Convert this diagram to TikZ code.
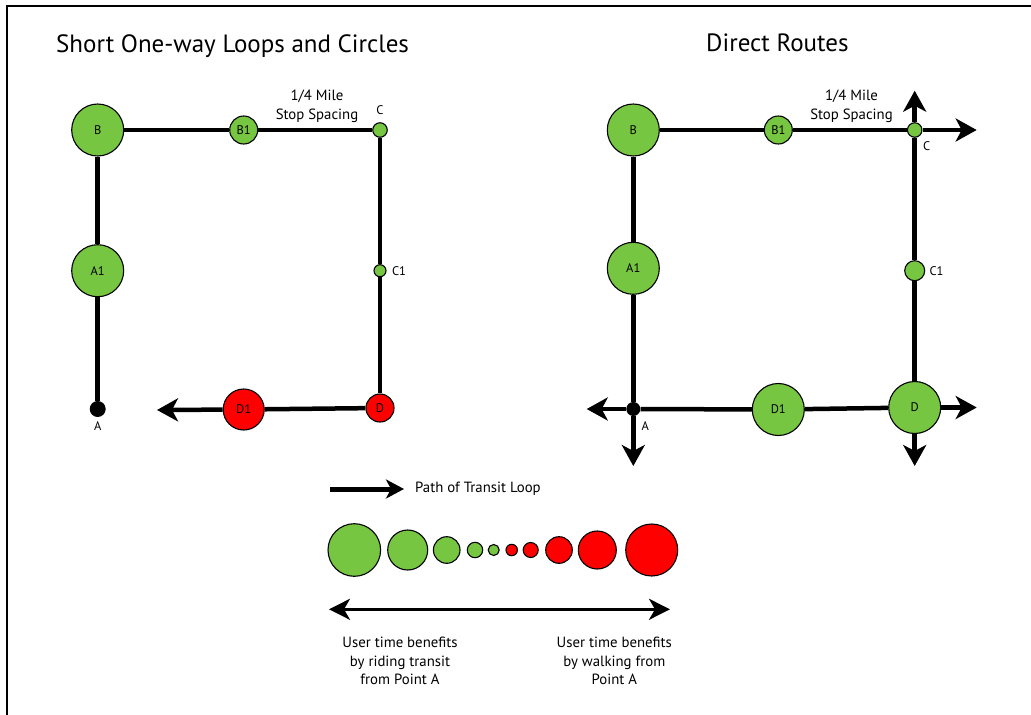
\documentclass[tikz,border=0pt]{standalone}
\usepackage{fontspec}
\setmainfont{PT Sans}
\usetikzlibrary{arrows.meta}
\definecolor{stopgreen}{RGB}{118,198,66}
\definecolor{stopred}{RGB}{255,0,0}
\tikzset{
  stopnode/.style={circle, draw=black, line width=1.1pt, inner sep=0pt, fill=stopgreen, font=\fontsize{12.5}{14}\selectfont},
  redstop/.style={stopnode, fill=stopred},
  route/.style={line width=4.5pt},
  bigtip/.style={-{Stealth[length=21pt,width=23pt,inset=6pt]}},
  lbl/.style={font=\fontsize{12.5}{14}\selectfont, inner sep=0pt},
  note/.style={font=\fontsize{14.8}{18.5}\selectfont, align=center, inner sep=0pt},
  titletext/.style={font=\fontsize{25}{29}\selectfont, inner sep=0pt, anchor=base west}
}
\begin{document}
\begin{tikzpicture}[x=1pt,y=-1pt]
\useasboundingbox (0,0) rectangle (1031,715);
\fill[white] (0,0) rectangle (1031,715);
\draw[line width=2pt] (7,715) -- (7,6) -- (1031,6);

% titles
\node[titletext] (t1) at (56,52) {Short One-way Loops and Circles};
\node[titletext] (t2) at (706,51) {Direct Routes};

% ---------- left diagram ----------
\coordinate (LDend) at (157,410);
\node[circle, fill=black, minimum size=16pt, inner sep=0pt] (LA) at (97.7,409) {};
\node[stopnode, minimum size=52pt] (LA1) at (97.7,270.7) {A1};
\node[stopnode, minimum size=52pt] (LB) at (97.7,130) {B};
\node[stopnode, minimum size=28pt] (LB1) at (243.7,130) {B1};
\node[stopnode, minimum size=14.5pt] (LC) at (380,130) {};
\node[stopnode, minimum size=12pt] (LC1) at (380,270.7) {};
\node[redstop, minimum size=28pt] (LD) at (380,408) {D};
\node[redstop, minimum size=41pt] (LD1) at (243.7,409.5) {D1};
\draw[route] (LA) -- (LA1);
\draw[route] (LA1) -- (LB);
\draw[route] (LB) -- (LB1);
\draw[route] (LB1) -- (LC);
\draw[route] (LC) -- (LC1);
\draw[route] (LC1) -- (LD);
\draw[route] (LD) -- (LD1);
\draw[route, bigtip] (LD1) -- (LDend);

\node[lbl] (LAl) at (97.7,426) {A};
\node[lbl] (LCl) at (380,110) {C};
\node[lbl] (LC1l) at (399,271) {C1};
\node[note] (Lspace) at (317,106.5) {1/4 Mile\\Stop Spacing};

% ---------- right diagram ----------
\coordinate (RCup) at (914.7,90.7);
\coordinate (RCright) at (976.7,130);
\coordinate (RAleft) at (586.7,409);
\coordinate (RAdown) at (633.3,466);
\coordinate (RDright) at (976.7,407.5);
\coordinate (RDdown) at (914.7,466);
\node[circle, fill=black, minimum size=14pt, inner sep=0pt] (RA) at (633.3,409) {};
\node[stopnode, minimum size=52pt] (RA1) at (633.3,268.3) {A1};
\node[stopnode, minimum size=52pt] (RB) at (633.3,130) {B};
\node[stopnode, minimum size=28pt] (RB1) at (778.3,130) {B1};
\node[stopnode, minimum size=14.5pt] (RC) at (914.7,130) {};
\node[stopnode, minimum size=20pt] (RC1) at (914.7,270.7) {};
\node[stopnode, minimum size=52pt] (RD) at (914.7,407.5) {D};
\node[stopnode, minimum size=52pt] (RD1) at (778.3,409.5) {D1};
\draw[route] (RA) -- (RA1);
\draw[route] (RA1) -- (RB);
\draw[route] (RB) -- (RB1);
\draw[route] (RB1) -- (RC);
\draw[route, bigtip] (RC) -- (RCright);
\draw[route, bigtip] (RC) -- (RCup);
\draw[route] (RC) -- (RC1);
\draw[route] (RC1) -- (RD);
\draw[route] (RA) -- (RD1);
\draw[route] (RD1) -- (RD);
\draw[route, bigtip] (RA) -- (RAleft);
\draw[route, bigtip] (RA) -- (RAdown);
\draw[route, bigtip] (RD) -- (RDright);
\draw[route, bigtip] (RD) -- (RDdown);

\node[lbl] (RAl) at (645.3,426) {A};
\node[lbl] (RCl) at (926.7,146) {C};
\node[lbl] (RC1l) at (936.5,271) {C1};
\node[note] (Rspace) at (851.5,106.5) {1/4 Mile\\Stop Spacing};

% ---------- legend ----------
\coordinate (PathS) at (330,489);
\coordinate (PathE) at (404,489);
\draw[line width=5pt, -{Stealth[length=18pt,width=19pt,inset=5pt]}] (PathS) -- (PathE);
\node[note, anchor=west] (PathT) at (415,489) {Path of Transit Loop};

\node[stopnode, minimum size=52.6pt] (k1) at (354.3,550) {};
\node[stopnode, minimum size=40pt] (k2) at (407.7,550) {};
\node[stopnode, minimum size=26.6pt] (k3) at (446.7,550) {};
\node[stopnode, minimum size=15.4pt] (k4) at (475,550) {};
\node[stopnode, minimum size=11pt] (k5) at (493.7,550) {};
\node[redstop, minimum size=11.4pt] (k6) at (511.7,550) {};
\node[redstop, minimum size=15pt] (k7) at (530.7,550) {};
\node[redstop, minimum size=26.6pt] (k8) at (559,550) {};
\node[redstop, minimum size=38pt] (k9) at (597.3,550) {};
\node[redstop, minimum size=52pt] (k10) at (651.7,550) {};

\coordinate (BenL) at (329,609.3);
\coordinate (BenR) at (670,609.3);
\draw[line width=2.8pt, {Stealth[length=21pt,width=21pt,inset=6pt]}-{Stealth[length=21pt,width=21pt,inset=6pt]}] (BenL) -- (BenR);

\node[note] (RideT) at (400,661) {User time benefits\\by riding transit\\from Point A};
\node[note] (WalkT) at (614.3,661) {User time benefits\\by walking from\\Point A};
\end{tikzpicture}
\end{document}
